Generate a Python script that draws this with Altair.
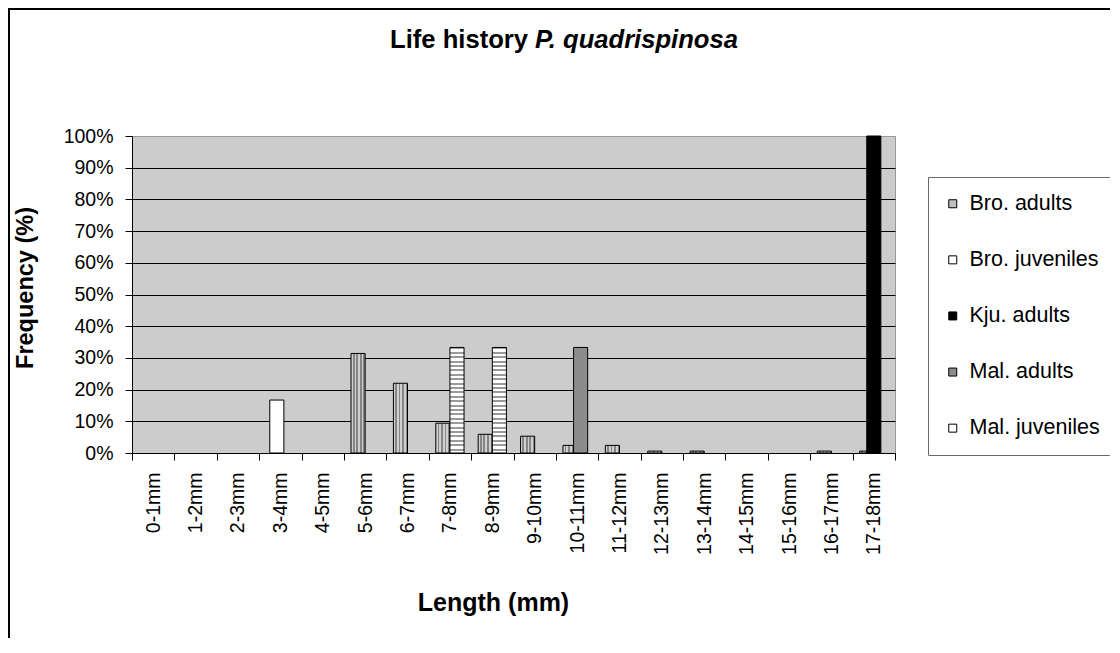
import altair as alt
import pandas as pd

categories = ["0-1mm", "1-2mm", "2-3mm", "3-4mm", "4-5mm", "5-6mm", "6-7mm", "7-8mm",
              "8-9mm", "9-10mm", "10-11mm", "11-12mm", "12-13mm", "13-14mm", "14-15mm",
              "15-16mm", "16-17mm", "17-18mm"]
series_names = ["Bro. adults", "Bro. juveniles", "Kju. adults", "Mal. adults", "Mal. juveniles"]

bro_adults = [0, 0, 0, 0, 0, 31.4, 22.0, 9.4, 5.9, 5.3, 2.4, 2.4, 0.6, 0.6, 0, 0, 0.6, 0.6]
bro_juveniles = [0, 0, 0, 16.7, 0, 0, 0, 0, 0, 0, 0, 0, 0, 0, 0, 0, 0, 0]
kju_adults = [0, 0, 0, 0, 0, 0, 0, 0, 0, 0, 0, 0, 0, 0, 0, 0, 0, 100.0]
mal_adults = [0, 0, 0, 0, 0, 0, 0, 0, 0, 0, 33.3, 0, 0, 0, 0, 0, 0, 0]
mal_juveniles = [0, 0, 0, 0, 0, 0, 0, 33.3, 33.3, 0, 0, 0, 0, 0, 0, 0, 0, 0]

y_ticks = list(range(0, 101, 10))

series_values = [bro_adults, bro_juveniles, kju_adults, mal_adults, mal_juveniles]
rows = []
for si, (name, vals) in enumerate(zip(series_names, series_values)):
    for cat, v in zip(categories, vals):
        rows.append({"length": cat, "series": name, "order": si, "value": v})
df = pd.DataFrame(rows)

FONT = "Liberation Sans"
W, H = 763, 317
HALF_BAND = W / len(categories) / 2

# pattern fills (styles)
def stripes(n, c1, c2, frac, horizontal):
    stops = []
    for i in range(n):
        a = i / n
        b = (i + frac) / n
        c = (i + 1) / n
        stops += [{"offset": a, "color": c1}, {"offset": b, "color": c1},
                  {"offset": b, "color": c2}, {"offset": c, "color": c2}]
    g = {"gradient": "linear", "stops": stops, "x1": 0, "y1": 0}
    if horizontal:
        g.update({"x2": 0, "y2": 1})
    else:
        g.update({"x2": 1, "y2": 0})
    return g

dots_fill = stripes(4, "#cfcfcf", "#858585", 0.5, False)
stripe_fill = stripes(24, "#9a9a9a", "#ffffff", 0.45, True)

x_enc = alt.X("length:N", sort=categories,
              scale=alt.Scale(domain=categories, paddingInner=0, paddingOuter=0),
              axis=alt.Axis(title="Length (mm)", labelAngle=270, labelFontSize=19.5,
                            labelFont=FONT, labelColor="black", tickBand="extent",
                            tickSize=7, labelPadding=12, tickColor="black",
                            domainColor="black", grid=False,
                            titleFont=FONT, titleFontSize=25, titleFontWeight="bold",
                            titleColor="black", titleX=361, titleY=157,
                            titleAlign="center", titleBaseline="alphabetic"))
y_enc = alt.Y("value:Q", scale=alt.Scale(domain=[0, 100], nice=False),
              axis=alt.Axis(title="Frequency (%)", values=y_ticks,
                            labelExpr="datum.value + '%'", labelFontSize=19.5,
                            labelFont=FONT, labelColor="black", tickSize=7,
                            labelPadding=12, tickColor="black", domainColor="black",
                            grid=True, gridWidth=1,
                            gridColor={"condition": {"test": "datum.value === 100", "value": "#999999"}, "value": "black"},
                            titleFont=FONT, titleFontSize=23.5, titleFontWeight="bold",
                            titleColor="black", titleAngle=270, titleX=-107, titleY=151.5,
                            titleAlign="center", titleBaseline="middle"))
xoff = alt.XOffset("order:Q", scale=alt.Scale(domain=[0, 4],
                                              range=[HALF_BAND - 7.07, HALF_BAND + 7.07]))

base = alt.Chart(df).transform_filter("datum.value > 0")

bars_a = base.transform_filter("datum.series === 'Bro. adults'").mark_bar(
    width=14.1, fill=dots_fill, stroke="black", strokeWidth=1).encode(
    x=x_enc, y=y_enc, xOffset=xoff)

bars_b = base.transform_filter(
    "datum.series !== 'Bro. adults' && datum.series !== 'Mal. juveniles'").mark_bar(
    width=14.1, stroke="black", strokeWidth=1).encode(
    x=x_enc, y=y_enc, xOffset=xoff,
    fill=alt.Fill("series:N",
                  scale=alt.Scale(domain=series_names,
                                  range=["#c0c0c0", "#ffffff", "#000000", "#8c8c8c", "#ffffff"]),
                  legend=alt.Legend(title=None, orient="none", legendX=796, legendY=41,
                                    padding=16, strokeColor="#6a6a6a", fillColor="white",
                                    labelFont=FONT, labelFontSize=21.5, labelColor="black",
                                    symbolType="square", symbolSize=64, symbolOffset=-2,
                                    symbolStrokeColor="black", symbolStrokeWidth=1,
                                    symbolOpacity=1, rowPadding=33.1, labelOffset=6,
                                    labelLimit=300)))

bars_c = base.transform_filter("datum.series === 'Mal. juveniles'").mark_bar(
    width=14.1, fill=stripe_fill, stroke="black", strokeWidth=1).encode(
    x=x_enc, y=y_enc, xOffset=xoff)

one = alt.Chart(pd.DataFrame({"a": [0]}))
frame = one.mark_rect(fill=None, stroke="black", strokeWidth=2).encode(
    x=alt.value(-123), y=alt.value(-127), x2=alt.value(3000), y2=alt.value(3000))
title1 = one.mark_text(text="Life history", align="right", baseline="alphabetic",
                       font=FONT, fontSize=25.6, fontWeight="bold", color="black").encode(
    x=alt.value(396), y=alt.value(-88))
title2 = one.mark_text(text="P. quadrispinosa", align="left", baseline="alphabetic",
                       font=FONT, fontSize=25.6, fontWeight="bold", fontStyle="italic",
                       color="black").encode(
    x=alt.value(403), y=alt.value(-88))

chart = alt.layer(frame, bars_a, bars_b, bars_c, title1, title2).properties(
    width=W, height=H,
    autosize=alt.AutoSizeParams(type="none"),
    padding={"left": 124, "top": 128, "right": 215, "bottom": 185},
    background="white",
).configure_view(fill="#cccccc", stroke="#999999", strokeWidth=1)

chart.save("out.html", embed_options={"renderer": "svg", "actions": False})
